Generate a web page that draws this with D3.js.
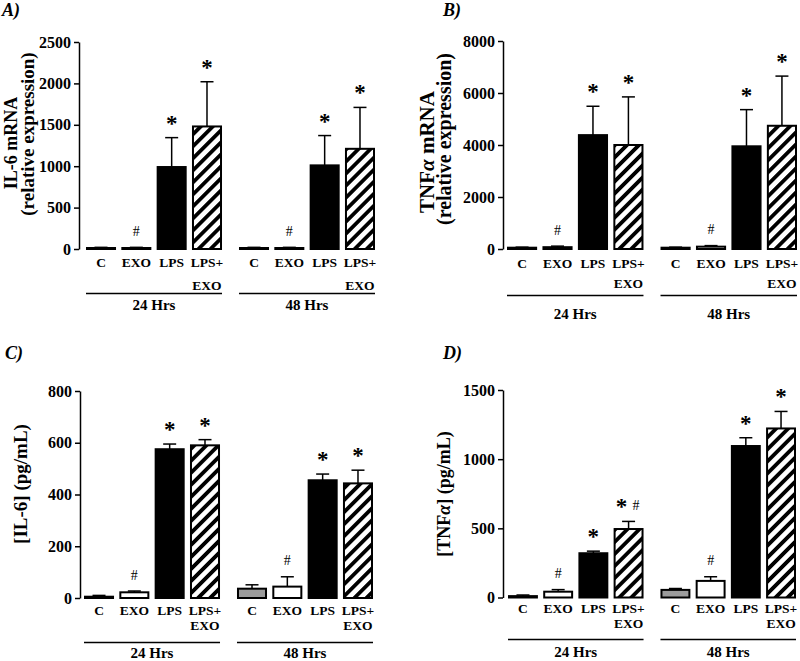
<!DOCTYPE html>
<html><head><meta charset="utf-8">
<script src="https://cdn.jsdelivr.net/npm/d3@7"></script>
<style>
body{margin:0;background:#fff}
svg{display:block}
text{font-family:"Liberation Serif","Times New Roman",Times,serif;fill:#000}
</style>
</head><body>
<svg id="chart" width="800" height="661"></svg>
<script>
// ---------- data ----------
const categories = ["C","EXO","LPS","LPS+EXO"];
const groups = ["24 Hrs","48 Hrs"];

// Panel A: IL-6 mRNA (relative expression)
const il6mRNA_24     = [12, 12, 990, 1480];
const il6mRNA_24_err = [8, 8, 355, 540];
const il6mRNA_48     = [12, 12, 1010, 1210];
const il6mRNA_48_err = [8, 8, 360, 500];
const il6mRNA_ticks  = [0, 500, 1000, 1500, 2000, 2500];

// Panel B: TNFa mRNA (relative expression)
const tnfmRNA_24     = [50, 70, 4380, 4000];
const tnfmRNA_24_err = [20, 40, 1110, 1850];
const tnfmRNA_48     = [50, 90, 3950, 4740];
const tnfmRNA_48_err = [20, 40, 1410, 1910];
const tnfmRNA_ticks  = [0, 2000, 4000, 6000, 8000];

// Panel C: [IL-6] (pg/mL)
const il6pg_24     = [5, 22, 575, 590];
const il6pg_24_err = [5, 5, 20, 22];
const il6pg_48     = [36, 44, 455, 443];
const il6pg_48_err = [15, 38, 24, 51];
const il6pg_ticks  = [0, 200, 400, 600, 800];

// Panel D: [TNFa] (pg/mL)
const tnfpg_24     = [10, 42, 320, 495];
const tnfpg_24_err = [8, 15, 15, 55];
const tnfpg_48     = [55, 120, 1095, 1222];
const tnfpg_48_err = [10, 30, 60, 123];
const tnfpg_ticks  = [0, 500, 1000, 1500];

// significance markers
const marksStd   = ["", "#", "*", "*"];
const marksD24   = ["", "#", "*", "*#"];

// ---------- layout ----------
const panels = [
  {label:"A)", lx:2, ly:16, axisX:79, x0:86, x1:375, yTop:42, yBot:249,
   max:2500, ticks:il6mRNA_ticks,
   titles:[{t:"IL-6 mRNA", x:17, y:143, fs:18},{t:"(relative expression)", x:34, y:134, fs:19}],
   vals:[il6mRNA_24, il6mRNA_48], errs:[il6mRNA_24_err, il6mRNA_48_err], marks:[marksStd, marksStd],
   l1:267, l2:290, lineY:293.5, gY:310},
  {label:"B)", lx:443, ly:16, axisX:503, x0:507, x1:797, yTop:41, yBot:249,
   max:8000, ticks:tnfmRNA_ticks,
   titles:[{t:"TNFα mRNA", x:434, y:152, fs:21},{t:"(relative expression)", x:451, y:139, fs:20}],
   vals:[tnfmRNA_24, tnfmRNA_48], errs:[tnfmRNA_24_err, tnfmRNA_48_err], marks:[marksStd, marksStd],
   l1:268, l2:288, lineY:295.5, gY:319},
  {label:"C)", lx:5, ly:359, axisX:80, x0:84, x1:373, yTop:391, yBot:598,
   max:800, ticks:il6pg_ticks,
   titles:[{t:"[IL-6] (pg/mL)", x:27, y:484, fs:19}],
   vals:[il6pg_24, il6pg_48], errs:[il6pg_24_err, il6pg_48_err], marks:[marksStd, marksStd],
   l1:615, l2:630, lineY:642.5, gY:658},
  {label:"D)", lx:443, ly:359, axisX:503, x0:508, x1:796, yTop:390, yBot:597.5,
   max:1500, ticks:tnfpg_ticks,
   titles:[{t:"[TNFα] (pg/mL)", x:450, y:494, fs:18}],
   vals:[tnfpg_24, tnfpg_48], errs:[tnfpg_24_err, tnfpg_48_err], marks:[marksD24, marksStd],
   l1:613, l2:628, lineY:639.5, gY:657}
];

const svg = d3.select("#chart");
const defs = svg.append("defs");
const pat = defs.append("pattern").attr("id","hatch")
  .attr("patternUnits","userSpaceOnUse").attr("width",8.5).attr("height",8.5)
  .attr("patternTransform","rotate(45)");
pat.append("rect").attr("width",8.5).attr("height",8.5).attr("fill","#fff");
pat.append("rect").attr("width",3.8).attr("height",8.5).attr("fill","#000");

function fillFor(gi, ci){
  if (ci===0) return gi===0 ? "#000" : "#9c9c9c";
  if (ci===1) return "#fff";
  if (ci===2) return "#000";
  return "url(#hatch)";
}

function addTextWithAlpha(sel, str){
  const parts = str.split("α");
  parts.forEach((p,i)=>{
    if (p) sel.append("tspan").text(p);
    if (i < parts.length-1) sel.append("tspan").attr("font-style","italic").text("α");
  });
}

panels.forEach(P=>{
  const g = svg.append("g");
  g.append("text").attr("x",P.lx).attr("y",P.ly)
    .attr("font-size",18).attr("font-weight","bold").attr("font-style","italic").text(P.label);

  const y = d3.scaleLinear().domain([0,P.max]).range([P.yBot,P.yTop]);
  const xg = d3.scaleBand().domain(groups).range([P.x0,P.x1]).paddingInner(0.111).paddingOuter(0);
  const xc = d3.scaleBand().domain(categories).range([0,xg.bandwidth()]).paddingInner(0.15).paddingOuter(0);

  const ax = g.append("g").attr("transform",`translate(${P.axisX},0)`)
    .call(d3.axisLeft(y).tickValues(P.ticks).tickSize(5).tickSizeOuter(0).tickPadding(3).tickFormat(d3.format("d")));
  ax.attr("font-family",null).attr("font-size",null);
  ax.select(".domain").attr("stroke","#000").attr("stroke-width",1.5);
  ax.selectAll(".tick line").attr("stroke","#000").attr("stroke-width",1.5);
  ax.selectAll(".tick text").attr("font-size",16).attr("font-weight","bold")
    .attr("font-family",'"Liberation Serif","Times New Roman",serif');

  P.titles.forEach(tt=>{
    const t = g.append("text").attr("transform",`translate(${tt.x},${tt.y}) rotate(-90)`)
      .attr("text-anchor","middle").attr("font-size",tt.fs).attr("font-weight","bold");
    addTextWithAlpha(t, tt.t);
  });

  groups.forEach((grp,gi)=>{
    const gx = xg(grp);
    const vals = P.vals[gi], errs = P.errs[gi], marks = P.marks[gi];
    categories.forEach((cat,ci)=>{
      const bx = gx + xc(cat), bw = xc.bandwidth(), cx = bx + bw/2;
      const v = vals[ci], e = errs[ci];
      const top = y(v + e);
      g.append("line").attr("x1",cx).attr("x2",cx).attr("y1",y(v)).attr("y2",top)
        .attr("stroke","#000").attr("stroke-width",1.5);
      g.append("line").attr("x1",cx-6.5).attr("x2",cx+6.5).attr("y1",top).attr("y2",top)
        .attr("stroke","#000").attr("stroke-width",1.5);
      g.append("rect").attr("x",bx+1).attr("y",y(v)).attr("width",bw-2)
        .attr("height",Math.max(0.5,y(0)-y(v)))
        .attr("fill",fillFor(gi,ci)).attr("stroke","#000").attr("stroke-width",2);
      const m = marks[ci];
      const center = top - 17;
      if (m === "*") {
        g.append("text").attr("x",cx).attr("y",center+10).attr("text-anchor","middle")
          .attr("font-size",23).attr("font-weight","bold").text("*");
      } else if (m === "#") {
        g.append("text").attr("x",cx).attr("y",center+5.5).attr("text-anchor","middle")
          .attr("font-size",14).text("#");
      } else if (m === "*#") {
        g.append("text").attr("x",cx-7).attr("y",center+10).attr("text-anchor","middle")
          .attr("font-size",23).attr("font-weight","bold").text("*");
        g.append("text").attr("x",cx+7.5).attr("y",center+5.5).attr("text-anchor","middle")
          .attr("font-size",14).text("#");
      }
      const lines = cat.includes("+") ? [cat.split("+")[0]+"+", cat.split("+")[1]] : [cat];
      lines.forEach((ln,li)=>{
        g.append("text").attr("x",cx).attr("y",li===0?P.l1:P.l2).attr("text-anchor","middle")
          .attr("font-size",13.5).attr("font-weight","bold").text(ln);
      });
    });
    g.append("line").attr("x1",gx).attr("x2",gx+xg.bandwidth()).attr("y1",P.lineY).attr("y2",P.lineY)
      .attr("stroke","#000").attr("stroke-width",1.5);
    g.append("text").attr("x",gx+xg.bandwidth()/2).attr("y",P.gY).attr("text-anchor","middle")
      .attr("font-size",15).attr("font-weight","bold").text(grp);
  });
});
</script>
</body></html>
